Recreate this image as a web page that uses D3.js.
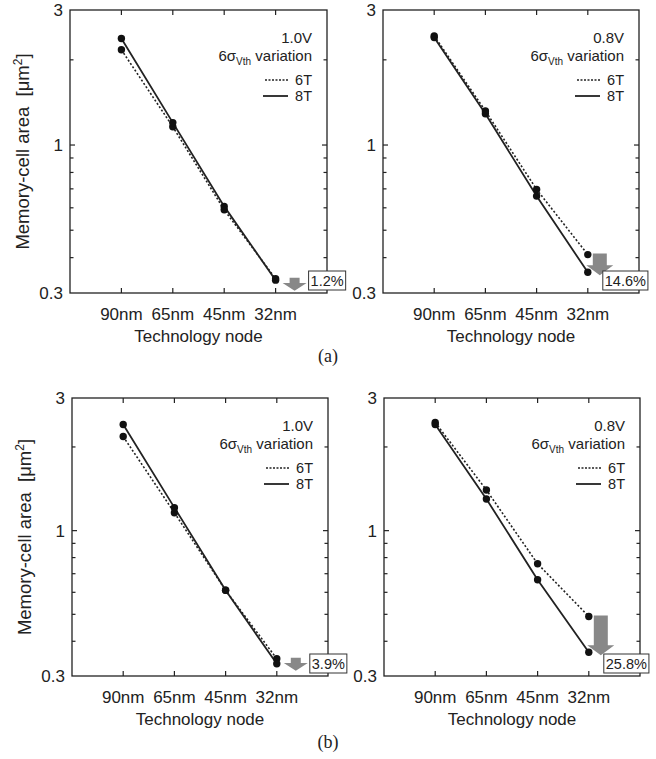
<!DOCTYPE html>
<html>
<head>
<meta charset="utf-8">
<script src="https://cdn.jsdelivr.net/npm/d3@7"></script>
<style>
	body { margin: 0; background: #fff; }
	svg { display: block; }
	text { font-family: "Liberation Sans", Arial, sans-serif; fill: #222; }
	.caption { font-family: "Liberation Serif", "Times New Roman", serif; }
</style>
</head>
<body>
<script>

const width = 656
const height = 759

// technology nodes, placed at x = 1..4 of a 0..5 axis
const nodes = ["90nm", "65nm", "45nm", "32nm"]

// memory-cell area [um^2]
const a_10V_6T = [2.17, 1.16, 0.59, 0.337]
const a_10V_8T = [2.38, 1.20, 0.607, 0.333]
const a_08V_6T = [2.43, 1.32, 0.697, 0.41]
const a_08V_8T = [2.40, 1.29, 0.66, 0.355]
const b_10V_6T = [2.18, 1.16, 0.61, 0.346]
const b_10V_8T = [2.41, 1.21, 0.61, 0.332]
const b_08V_6T = [2.45, 1.40, 0.76, 0.491]
const b_08V_8T = [2.41, 1.30, 0.666, 0.365]

const voltages = ["1.0V", "0.8V", "1.0V", "0.8V"]
const reductions = ["1.2%", "14.6%", "3.9%", "25.8%"]

const y_major = [3, 1, 0.3]
const y_minor = [2, 0.9, 0.8, 0.7, 0.6, 0.5, 0.4]

const panels = [
	{x0: 70,  y0: 10,  w: 257, h: 283, s6: a_10V_6T, s8: a_10V_8T, volt: voltages[0], pc: reductions[0], ylab: true},
	{x0: 383, y0: 10,  w: 256, h: 283, s6: a_08V_6T, s8: a_08V_8T, volt: voltages[1], pc: reductions[1], ylab: false},
	{x0: 72,  y0: 398, w: 256, h: 278, s6: b_10V_6T, s8: b_10V_8T, volt: voltages[2], pc: reductions[2], ylab: true},
	{x0: 384, y0: 398, w: 256, h: 278, s6: b_08V_6T, s8: b_08V_8T, volt: voltages[3], pc: reductions[3], ylab: false},
]

const svg = d3.select("body").append("svg")
	.attr("width", width)
	.attr("height", height)

function draw_panel(p) {

	let g = svg.append("g")

	let x = d3.scaleLinear().domain([0, 5]).range([p.x0, p.x0 + p.w])
	let y = d3.scaleLog().domain([0.3, 3]).range([p.y0 + p.h, p.y0])

	let top = p.y0, bottom = p.y0 + p.h, left = p.x0, right = p.x0 + p.w

	// ticks, all pointing inward
	let tick_g = g.append("g").attr("stroke", "#222").attr("stroke-width", 1.2)
	nodes.forEach((d, i) => {
		tick_g.append("line").attr("x1", x(i+1)).attr("x2", x(i+1)).attr("y1", bottom).attr("y2", bottom - 5)
		tick_g.append("line").attr("x1", x(i+1)).attr("x2", x(i+1)).attr("y1", top).attr("y2", top + 5)
	})
	y_minor.concat([1]).forEach((v) => {
		let len = v == 1 ? 5 : 3.5
		tick_g.append("line").attr("x1", left).attr("x2", left + len).attr("y1", y(v)).attr("y2", y(v))
		tick_g.append("line").attr("x1", right).attr("x2", right - len).attr("y1", y(v)).attr("y2", y(v))
	})

	// frame
	g.append("rect")
		.attr("x", left).attr("y", top)
		.attr("width", p.w).attr("height", p.h)
		.attr("fill", "none").attr("stroke", "#222").attr("stroke-width", 1.3)

	// y tick labels
	g.selectAll("text.ytick")
		.data(y_major).enter().append("text")
		.classed("ytick", true)
		.text((d) => d)
		.attr("x", left - 7)
		.attr("y", (d) => y(d))
		.attr("dy", "0.35em")
		.attr("text-anchor", "end")
		.attr("font-size", 17)

	// x tick labels
	g.selectAll("text.xtick")
		.data(nodes).enter().append("text")
		.classed("xtick", true)
		.text((d) => d)
		.attr("x", (d, i) => x(i+1))
		.attr("y", bottom + 27)
		.attr("text-anchor", "middle")
		.attr("font-size", 17)

	g.append("text")
		.text("Technology node")
		.attr("x", (left + right) / 2)
		.attr("y", bottom + 49)
		.attr("text-anchor", "middle")
		.attr("font-size", 17)

	if (p.ylab) {
		let yl = g.append("text")
			.attr("transform", "translate(" + (left - 41) + "," + ((top + bottom) / 2) + ") rotate(-90)")
			.attr("text-anchor", "middle")
			.attr("font-size", 18.5)
		yl.append("tspan").text("Memory-cell area \u00a0[\u03bcm")
		yl.append("tspan").text("2").attr("font-size", 12).attr("dy", -7)
		yl.append("tspan").text("]").attr("dy", 7)
	}

	// series lines
	let line = d3.line().x((d, i) => x(i+1)).y((d) => y(d))

	g.append("path").datum(p.s6)
		.attr("d", line)
		.attr("fill", "none").attr("stroke", "#222").attr("stroke-width", 1.6)
		.attr("stroke-dasharray", "2,2")
	g.append("path").datum(p.s8)
		.attr("d", line)
		.attr("fill", "none").attr("stroke", "#222").attr("stroke-width", 1.8)

	p.s6.concat(p.s8).forEach((v, i) => {
		g.append("circle")
			.attr("cx", x((i % 4) + 1)).attr("cy", y(v))
			.attr("r", 3.7).attr("fill", "#111")
	})

	// condition text + legend
	let tx = right - 15
	g.append("text").text(p.volt)
		.attr("x", tx).attr("y", top + 33)
		.attr("text-anchor", "end").attr("font-size", 15)
	let cond = g.append("text")
		.attr("x", tx).attr("y", top + 51)
		.attr("text-anchor", "end").attr("font-size", 15)
	cond.append("tspan").text("6\u03c3")
	cond.append("tspan").text("Vth").attr("font-size", 10).attr("dy", 4)
	cond.append("tspan").text(" variation").attr("dy", -4)

	g.append("text").text("6T")
		.attr("x", tx).attr("y", top + 75)
		.attr("text-anchor", "end").attr("font-size", 14.5)
	g.append("text").text("8T")
		.attr("x", tx).attr("y", top + 91)
		.attr("text-anchor", "end").attr("font-size", 14.5)
	g.append("line")
		.attr("x1", right - 62).attr("x2", right - 39)
		.attr("y1", top + 70).attr("y2", top + 70)
		.attr("stroke", "#222").attr("stroke-width", 1.6).attr("stroke-dasharray", "2,1.5")
	g.append("line")
		.attr("x1", right - 64).attr("x2", right - 39)
		.attr("y1", top + 86).attr("y2", top + 86)
		.attr("stroke", "#222").attr("stroke-width", 1.8)

	// reduction arrow at 32nm
	let v6 = p.s6[3], v8 = p.s8[3]
	let a_top = y(v6) - 1
	let a_tip = Math.max(y(v8) + 3, y(v6) + 12)
	let short = (a_tip - a_top) < 18
	let cx = x(4) + (short ? 19 : 12)
	let shaft = short ? 5 : 7
	let head = short ? 12 : 13.5
	let head_h = Math.min(10, (a_tip - a_top) * 0.6)
	let pts = [
		[cx - shaft, a_top], [cx + shaft, a_top], [cx + shaft, a_tip - head_h],
		[cx + head, a_tip - head_h], [cx, a_tip], [cx - head, a_tip - head_h],
		[cx - shaft, a_tip - head_h]
	]
	g.append("polygon")
		.attr("points", pts.map((d) => d.join(",")).join(" "))
		.attr("fill", "#888")

	// percentage box
	let bx = x(4) + (short ? 33 : 15)
	let by = bottom - 3
	let lab = g.append("text").text(p.pc)
		.attr("x", bx + 2).attr("y", by - 4)
		.attr("font-size", 14.5)
	let bw = lab.node().getComputedTextLength() + 4
	g.insert("rect", function() { return lab.node() })
		.attr("x", bx).attr("y", by - 19)
		.attr("width", bw).attr("height", 19)
		.attr("fill", "#fff").attr("stroke", "#333").attr("stroke-width", 1)
}

panels.forEach(draw_panel)

svg.append("text").classed("caption", true).text("(a)")
	.attr("x", 328).attr("y", 362).attr("text-anchor", "middle").attr("font-size", 18)
svg.append("text").classed("caption", true).text("(b)")
	.attr("x", 328).attr("y", 748).attr("text-anchor", "middle").attr("font-size", 18)

</script>
</body>
</html>
